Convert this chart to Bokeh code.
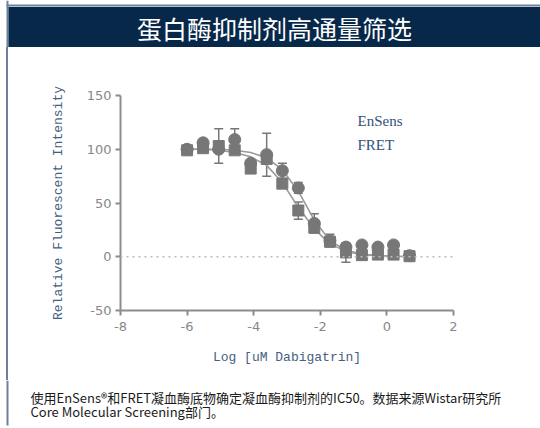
from bokeh.plotting import figure
from bokeh.layouts import column, row
from bokeh.models import (Range1d, ColumnDataSource, Whisker, Span, Label,
                          FixedTicker, TeeHead, Spacer)
from bokeh.core.properties import value
from bokeh.embed import file_html
from bokeh.resources import INLINE

# ---------------- data ----------------
title_text = "蛋白酶抑制剂高通量筛选"
caption_lines = ["使用EnSens®和FRET凝血酶底物确定凝血酶抑制剂的IC50。数据来源Wistar研究所",
                 "Core Molecular Screening部门。"]
x_label = "Log [uM Dabigatrin]"
y_label = "Relative Fluorescent Intensity"
series_names = ["EnSens", "FRET"]

log_conc = [-6.0, -5.52, -5.05, -4.57, -4.09, -3.61, -3.14, -2.66,
            -2.18, -1.71, -1.23, -0.75, -0.27, 0.20, 0.68]
ensens_mean = [100, 106, 100, 109, 87, 95, 80, 64, 31, 15, 9, 11, 9, 11, 1]
ensens_sd = [1, 3, 2, 10, 3, 20, 7, 5, 9, 6, 2, 2, 2, 2, 1]
fret_mean = [99, 101, 103, 99, 82, 91, 68, 43, 27, 14, 4, 1.5, 2, 2, 0.5]
fret_sd = [1, 2, 16, 2, 3, 3, 3, 8, 3, 2, 9, 1, 1, 1, 1]
ensens_fit = [100, 100, 100, 99, 97, 92, 81, 61, 34, 15, 6, 2.5, 1, 0.5, 0.3]
fret_fit = [100, 100, 99, 97, 93, 85, 69, 46, 26, 12, 5, 2, 1, 0.5, 0.3]

x_ticks = [-8, -6, -4, -2, 0, 2]
y_ticks = [-50, 0, 50, 100, 150]

# ---------------- styles ----------------
NAVY = "#08284a"
BORDER = "#6d819a"
GRAY = "#8c8c8c"
MARK = "#777777"
PAGE_W = 540
HEAD_H, CHART_H, CAP_H = 47, 333, 48
BORDER_W = 8


def blank(width, height):
    f = figure(width=width, height=height, x_range=Range1d(0, width),
               y_range=Range1d(height, 0), output_backend="svg",
               toolbar_location=None, x_axis_location=None, y_axis_location=None,
               min_border=0, background_fill_color="white",
               border_fill_color="white")
    f.outline_line_color = None
    f.grid.visible = False
    return f


# ---------------- header ----------------
head = blank(PAGE_W, HEAD_H)
head.quad(left=[6], right=[8], top=[0], bottom=[HEAD_H], fill_color=BORDER, line_color=None)
head.quad(left=[6], right=[PAGE_W], top=[4], bottom=[6], fill_color=BORDER, line_color=None)
head.quad(left=[8], right=[PAGE_W], top=[6.5], bottom=[46.7], fill_color=NAVY, line_color=None)
head.text(x=[274], y=[27], text=[title_text], text_align="center",
          text_baseline="middle", text_color="white",
          text_font=value("Noto Sans CJK SC"), text_font_size="25px")

# ---------------- left border beside the chart ----------------
side = Spacer(width=BORDER_W, height=CHART_H,
              styles={"background": f"linear-gradient(to right, white 6px, {BORDER} 6px)"})

# ---------------- chart ----------------
CW = PAGE_W - BORDER_W
L, R, T, B = 112, 87, 48, 70
p = figure(width=CW, height=CHART_H, x_range=Range1d(-8, 2), y_range=Range1d(-50, 150),
           output_backend="svg", toolbar_location=None,
           min_border_left=L, min_border_right=R, min_border_top=T, min_border_bottom=B,
           background_fill_color="white", border_fill_color="white")
p.outline_line_color = None
p.xgrid.visible = False
p.ygrid.visible = False
p.extra_x_ranges = {"px": Range1d(L, CW - R)}
p.extra_y_ranges = {"px": Range1d(CHART_H - B, T)}

p.add_layout(Span(location=0, dimension="width", line_color="#bbbbbb",
                  line_dash="2 4", line_width=1.5))

src_e = ColumnDataSource(dict(x=log_conc, y=ensens_mean, fit=ensens_fit,
                              upper=[m + s for m, s in zip(ensens_mean, ensens_sd)],
                              lower=[m - s for m, s in zip(ensens_mean, ensens_sd)]))
src_f = ColumnDataSource(dict(x=log_conc, y=fret_mean, fit=fret_fit,
                              upper=[m + s for m, s in zip(fret_mean, fret_sd)],
                              lower=[m - s for m, s in zip(fret_mean, fret_sd)]))

p.line("x", "fit", source=src_e, line_color="#9a9a9a", line_width=1.6)
p.line("x", "fit", source=src_f, line_color="#9a9a9a", line_width=1.6)

for src in (src_e, src_f):
    p.add_layout(Whisker(base="x", upper="upper", lower="lower", source=src,
                         line_color=MARK, line_width=1.5,
                         upper_head=TeeHead(size=9, line_color=MARK, line_width=1.5),
                         lower_head=TeeHead(size=9, line_color=MARK, line_width=1.5)))

p.scatter("x", "y", source=src_e, marker="circle", size=12,
          fill_color=MARK, line_color=MARK)
p.scatter("x", "y", source=src_f, marker="square", size=11,
          fill_color=MARK, line_color=MARK)

for i, name in enumerate(series_names):
    p.add_layout(Label(x=349, y=73.7 + 23.5 * i, x_range_name="px", y_range_name="px",
                       text=name, text_baseline="middle",
                       text_color="#34507a", text_font="Liberation Serif",
                       text_font_size="15px"))

p.xaxis.ticker = FixedTicker(ticks=x_ticks)
p.yaxis.ticker = FixedTicker(ticks=y_ticks)
p.xaxis.major_label_overrides = {t: str(t) for t in x_ticks}
p.yaxis.major_label_overrides = {t: str(t) for t in y_ticks}
p.xaxis.axis_label = x_label
p.yaxis.axis_label = y_label
for ax in (p.xaxis[0], p.yaxis[0]):
    ax.axis_line_color = GRAY
    ax.axis_line_width = 2
    ax.major_tick_line_color = GRAY
    ax.major_tick_line_width = 2
    ax.major_tick_out = 5
    ax.major_tick_in = 0
    ax.minor_tick_out = 0
    ax.minor_tick_in = 0
    ax.major_label_text_color = "#888888"
    ax.major_label_text_font = "DejaVu Sans"
    ax.major_label_text_font_size = "13px"
    ax.axis_label_text_font = "Liberation Mono"
    ax.axis_label_text_font_size = "13px"
    ax.axis_label_text_font_style = "normal"
    ax.axis_label_text_color = "#45607f"
p.yaxis[0].major_label_standoff = 4
p.yaxis[0].axis_label_standoff = 18
p.xaxis[0].major_label_standoff = 6
p.xaxis[0].axis_label_standoff = 16

# ---------------- caption ----------------
cap = blank(PAGE_W, CAP_H)
cap.quad(left=[6], right=[8], top=[0], bottom=[45], fill_color=BORDER, line_color=None)
cap.text(x=[30, 30], y=[17, 31], text=caption_lines, text_align="left",
         text_baseline="middle", text_color="#1a1a1a",
         text_font=value("Noto Sans CJK SC"), text_font_size="13px")

layout = column(head, row(side, p, spacing=0), cap, spacing=0)
open("out.html", "w").write(file_html(layout, INLINE))
